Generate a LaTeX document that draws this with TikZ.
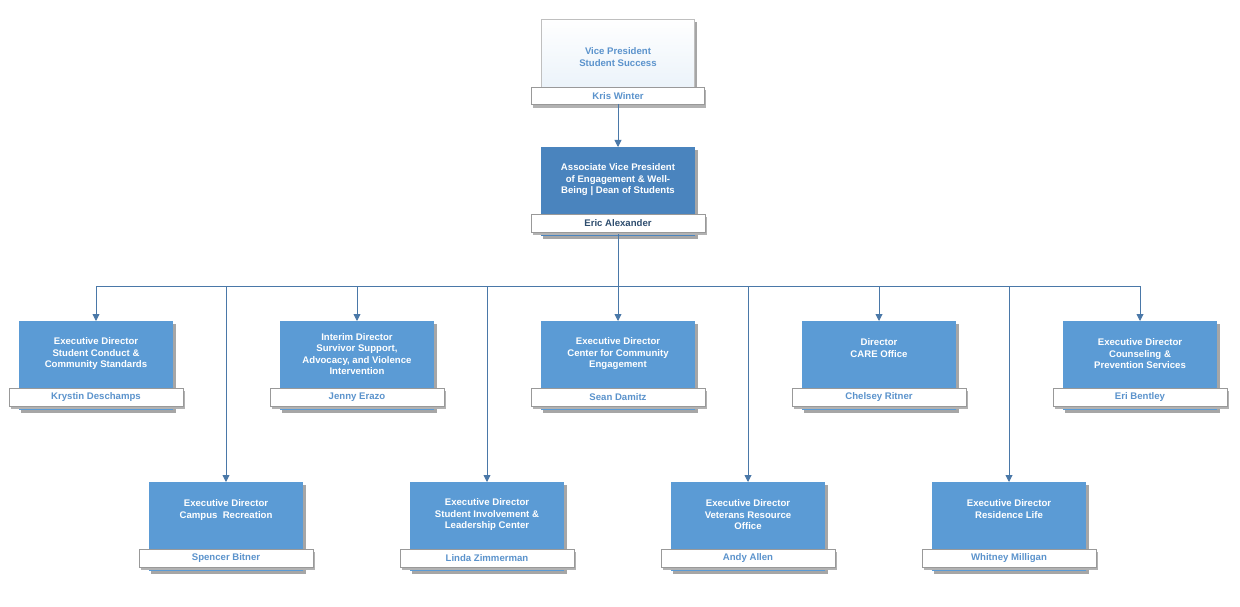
\documentclass[tikz,border=0pt]{standalone}
\usepackage{fontspec}
\setmainfont{Liberation Sans}
\usetikzlibrary{arrows.meta}
\definecolor{boxb}{HTML}{5B9BD5}
\definecolor{boxd}{HTML}{4A84BE}
\definecolor{namec}{HTML}{5B93CC}
\definecolor{named}{HTML}{2E4D6E}
\definecolor{linec}{HTML}{4A78A8}
\tikzset{
 x=1pt,y=-1pt,
 conn/.style={linec,line width=0.9pt},
 arr/.style={conn,-{Triangle[length=7pt,width=7pt]}},
 ttl/.style={font=\bfseries\fontsize{9.6}{11.5}\selectfont,align=center,text=white},
 nm/.style={font=\bfseries\fontsize{9.6}{11}\selectfont,text=namec},
}
\newcommand{\obox}[7]{%
 % #1 name #2 cx #3 top #4 title #5 person #6 fill #7 name colour
 \fill[black!35] (#2-75,#3+3) rectangle (#2+80,#3+92);
 \fill[#6] (#2-77,#3) rectangle (#2+77,#3+89);
 \fill[black!30] (#2-85,#3+70) rectangle (#2+89,#3+88);
 \fill[white,draw=black!40,line width=0.4pt] (#2-87,#3+67) rectangle (#2+87,#3+85);
 \node[ttl] (#1) at (#2,#3+33) {#4};
 \node[nm,text=#7] (#1n) at (#2,#3+76) {#5};
 \coordinate (#1t) at (#2,#3);
 \coordinate (#1b) at (#2,#3+87);
}
\begin{document}
\begin{tikzpicture}
\useasboundingbox[fill=white] (0,0) rectangle (1240,607);
\fill[black!35] (543,22) rectangle (697,106);
\shade[top color=white,bottom color=white!85!boxb] (541,19) rectangle (694,104);
\draw[black!25] (541,19) rectangle (694,104);
\fill[black!30] (533,90) rectangle (706,108);
\fill[white,draw=black!40,line width=0.4pt] (531,87) rectangle (704,104);
\node[ttl,text=namec] (vp) at (618,57) {Vice President\\Student Success};
\node[nm] (vpn) at (618,96) {Kris Winter};
\coordinate (vpb) at (618,104);
\obox{avp}{618}{147}{Associate Vice President\\of Engagement \& Well-\\Being | Dean of Students}{Eric Alexander}{boxd}{named}
\obox{a}{96}{321}{Executive Director\\Student Conduct \&\\Community Standards}{Krystin Deschamps}{boxb}{namec}
\obox{b}{357}{321}{Interim Director\\Survivor Support,\\Advocacy, and Violence\\Intervention}{Jenny Erazo}{boxb}{namec}
\obox{c}{618}{321}{Executive Director\\Center for Community\\Engagement}{Sean Damitz}{boxb}{namec}
\obox{d}{879}{321}{Director\\CARE Office\\\mbox{}}{Chelsey Ritner}{boxb}{namec}
\obox{e}{1140}{321}{Executive Director\\Counseling \&\\Prevention Services}{Eri Bentley}{boxb}{namec}
\obox{f}{226}{482}{Executive Director\\Campus\ \ Recreation\\\mbox{}}{Spencer Bitner}{boxb}{namec}
\obox{g}{487}{482}{Executive Director\\Student Involvement \&\\Leadership Center}{Linda Zimmerman}{boxb}{namec}
\obox{h}{748}{482}{Executive Director\\Veterans Resource\\Office}{Andy Allen}{boxb}{namec}
\obox{i}{1009}{482}{Executive Director\\Residence Life\\\mbox{}}{Whitney Milligan}{boxb}{namec}
\draw[arr] (vpb) -- (avpt);
\coordinate (bus) at (618,286);
\draw[conn] (avpb) -- (bus);
\coordinate (busl) at (96,286);
\coordinate (busr) at (1140,286);
\draw[conn] (busl) -- (busr);
\foreach \n in {a,b,c,d,e,f,g,h,i}{\draw[arr] (\n t |- bus) -- (\n t);}
\end{tikzpicture}
\end{document}
